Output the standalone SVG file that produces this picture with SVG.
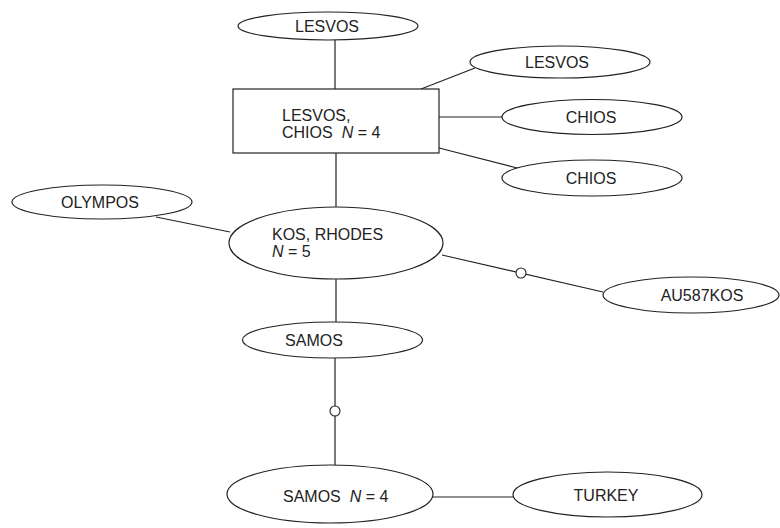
<svg xmlns="http://www.w3.org/2000/svg" width="780" height="528" viewBox="0 0 780 528">
  <style>
    .shape { fill: #ffffff; stroke: #222222; stroke-width: 1.2; }
    .link { fill: none; stroke: #222222; stroke-width: 1.2; }
    .knot { fill: #ffffff; stroke: #222222; stroke-width: 1.1; }
    text { font-family: "Liberation Sans", Arial, sans-serif; font-size: 16px; fill: #222222; }
    .mid { text-anchor: middle; }
    .it { font-style: italic; }
  </style>
  <rect width="780" height="528" fill="#ffffff"/>

  <g id="connectors">
    <line class="link" x1="335" y1="40" x2="335" y2="89"/>
    <line class="link" x1="421" y1="89" x2="475" y2="68"/>
    <line class="link" x1="439" y1="117" x2="502" y2="117"/>
    <line class="link" x1="439" y1="148" x2="517" y2="168"/>
    <line class="link" x1="336" y1="153" x2="336" y2="207"/>
    <line class="link" x1="156" y1="217" x2="230" y2="232"/>
    <line class="link" x1="442" y1="255" x2="603" y2="292"/>
    <line class="link" x1="336" y1="279" x2="336" y2="322"/>
    <line class="link" x1="335" y1="358" x2="335" y2="465"/>
    <line class="link" x1="433" y1="497" x2="513" y2="497"/>
    <circle class="knot" cx="521" cy="273" r="5"/>
    <circle class="knot" cx="335" cy="411" r="5"/>
  </g>

  <g id="lesvos-top">
    <ellipse class="shape" cx="328" cy="26" rx="90" ry="14"/>
    <text class="mid" x="327" y="32">LESVOS</text>
  </g>

  <g id="lesvos-chios">
    <rect class="shape" x="233" y="89" width="206" height="64"/>
    <text x="282" y="121">LESVOS,</text>
    <text x="282" y="138">CHIOS<tspan class="it" dx="9">N</tspan> = 4</text>
  </g>

  <g id="lesvos-right">
    <ellipse class="shape" cx="560" cy="62" rx="90" ry="16"/>
    <text class="mid" x="557" y="68">LESVOS</text>
  </g>

  <g id="chios-1">
    <ellipse class="shape" cx="592" cy="117" rx="90" ry="17.5"/>
    <text class="mid" x="591" y="123">CHIOS</text>
  </g>

  <g id="chios-2">
    <ellipse class="shape" cx="592" cy="178" rx="90" ry="18"/>
    <text class="mid" x="591" y="184">CHIOS</text>
  </g>

  <g id="olympos">
    <ellipse class="shape" cx="102" cy="202" rx="90" ry="17"/>
    <text class="mid" x="100" y="208">OLYMPOS</text>
  </g>

  <g id="kos-rhodes">
    <ellipse class="shape" cx="336" cy="243" rx="107" ry="36"/>
    <text x="272" y="240">KOS, RHODES</text>
    <text x="272" y="257"><tspan class="it">N</tspan> = 5</text>
  </g>

  <g id="au587kos">
    <ellipse class="shape" cx="691" cy="295" rx="88" ry="18"/>
    <text class="mid" x="702" y="301">AU587KOS</text>
  </g>

  <g id="samos">
    <ellipse class="shape" cx="332.5" cy="340" rx="90" ry="18"/>
    <text class="mid" x="314" y="346">SAMOS</text>
  </g>

  <g id="samos-n4">
    <ellipse class="shape" cx="330" cy="494" rx="103" ry="29"/>
    <text x="283" y="502">SAMOS<tspan class="it" dx="9">N</tspan> = 4</text>
  </g>

  <g id="turkey">
    <ellipse class="shape" cx="607.5" cy="494.5" rx="94.5" ry="22.5"/>
    <text class="mid" x="606" y="501">TURKEY</text>
  </g>
</svg>
